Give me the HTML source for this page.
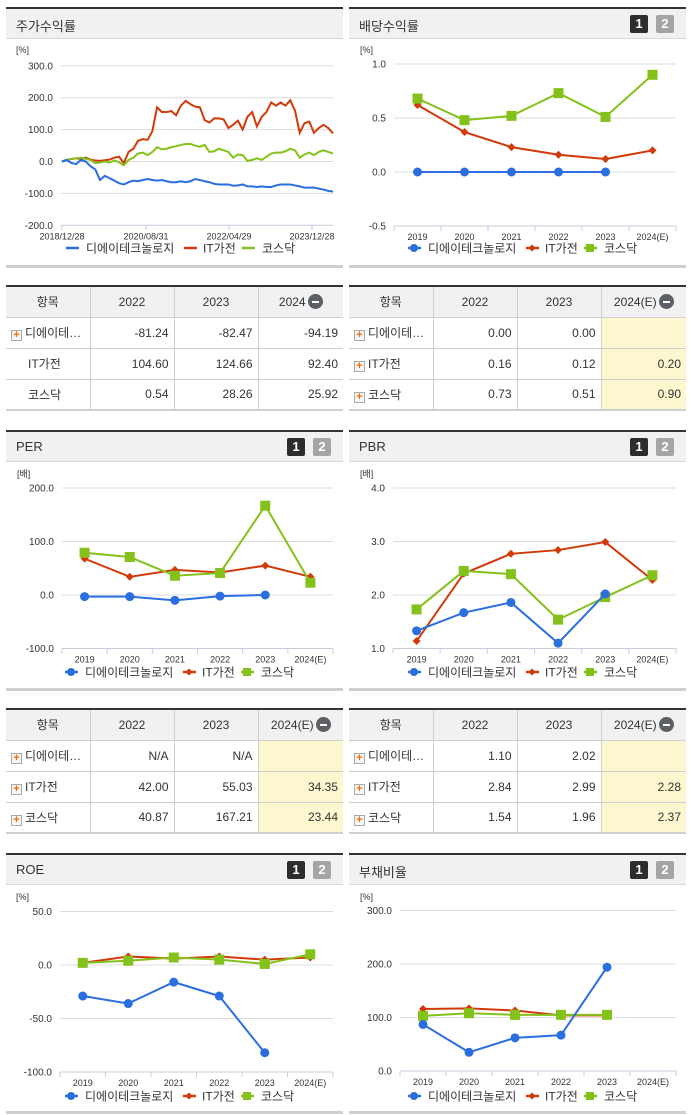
<!DOCTYPE html>
<html><head><meta charset="utf-8">
<style>
*{margin:0;padding:0;box-sizing:border-box}
body{width:691px;height:1115px;background:#fff;position:relative;overflow:hidden;font-family:"Liberation Sans","Noto Sans CJK KR",sans-serif;color:#333}
.panel{position:absolute;border-top:2px solid #333;background:#f1f1f1;height:32px;border-bottom:1px solid #d8d8d8}
.panel .t{position:absolute;left:10px;top:7px;font-size:13px;color:#333}
.btn{position:absolute;top:6px;width:18px;height:18px;font-size:13px;font-weight:bold;color:#fff;text-align:center;line-height:18px;border-radius:2px}
.b1{background:#2d2d2d;right:38px}.b2{background:#a5a5a5;right:12px}
.bar{position:absolute;height:3px;background:#cfcfcf}
table{position:absolute;border-collapse:collapse;font-size:12px;border-top:2px solid #333;border-bottom:2px solid #cfcfcf;table-layout:fixed}
td,th{border:1px solid #cfcfcf;height:31px;padding:0 5px;text-align:right;white-space:nowrap;overflow:hidden}
th{background:#f1f1f1;font-weight:normal;text-align:center;height:31px}
tr td:first-child,tr th:first-child{border-left:none}
tr td:last-child,tr th:last-child{border-right:none}
td.n{text-align:left;padding-left:5px}
td.y{background:#fdf7d0}
.plus{display:inline-block;width:11px;height:11px;border:1px solid #aaa;background:#f6f6f6;color:#f26a00;font-size:11px;line-height:9px;text-align:center;font-weight:bold;margin-right:3px;vertical-align:-1px}
.minus{display:inline-block;width:15px;height:15px;border-radius:50%;background:#5c6066;vertical-align:-3px;position:relative;margin-left:2px}
.minus:after{content:"";position:absolute;left:4px;top:6.5px;width:7px;height:2px;background:#fff}
svg{position:absolute;left:0;top:0}
</style></head><body>

<div class="panel" style="left:6px;top:7px;width:337px"><span class="t">주가수익률</span></div>
<div class="panel" style="left:349px;top:7px;width:337px"><span class="t">배당수익률</span><span class="btn b1">1</span><span class="btn b2">2</span></div>
<div class="panel" style="left:6px;top:430px;width:337px"><span class="t">PER</span><span class="btn b1">1</span><span class="btn b2">2</span></div>
<div class="panel" style="left:349px;top:430px;width:337px"><span class="t">PBR</span><span class="btn b1">1</span><span class="btn b2">2</span></div>
<div class="panel" style="left:6px;top:853px;width:337px"><span class="t">ROE</span><span class="btn b1">1</span><span class="btn b2">2</span></div>
<div class="panel" style="left:349px;top:853px;width:337px"><span class="t">부채비율</span><span class="btn b1">1</span><span class="btn b2">2</span></div>

<div class="bar" style="left:6px;top:265px;width:337px"></div>
<div class="bar" style="left:349px;top:265px;width:337px"></div>
<div class="bar" style="left:6px;top:688px;width:337px"></div>
<div class="bar" style="left:349px;top:688px;width:337px"></div>
<div class="bar" style="left:6px;top:1111px;width:337px"></div>
<div class="bar" style="left:349px;top:1111px;width:337px"></div>

<table style="left:6px;top:285px;width:337px">
<colgroup><col style="width:84px"><col style="width:84px"><col style="width:84px"><col style="width:85px"></colgroup>
<tr><th>항목</th><th>2022</th><th>2023</th><th>2024<span class="minus"></span></th></tr>
<tr><td class="n"><span class="plus">+</span>디에이테…</td><td>-81.24</td><td>-82.47</td><td>-94.19</td></tr>
<tr><td class="n" style="padding-left:22px">IT가전</td><td>104.60</td><td>124.66</td><td>92.40</td></tr>
<tr><td class="n" style="padding-left:22px">코스닥</td><td>0.54</td><td>28.26</td><td>25.92</td></tr>
</table>

<table style="left:349px;top:285px;width:337px">
<colgroup><col style="width:84px"><col style="width:84px"><col style="width:84px"><col style="width:85px"></colgroup>
<tr><th>항목</th><th>2022</th><th>2023</th><th>2024(E)<span class="minus"></span></th></tr>
<tr><td class="n"><span class="plus">+</span>디에이테…</td><td>0.00</td><td>0.00</td><td class="y"></td></tr>
<tr><td class="n"><span class="plus">+</span>IT가전</td><td>0.16</td><td>0.12</td><td class="y">0.20</td></tr>
<tr><td class="n"><span class="plus">+</span>코스닥</td><td>0.73</td><td>0.51</td><td class="y">0.90</td></tr>
</table>

<table style="left:6px;top:708px;width:337px">
<colgroup><col style="width:84px"><col style="width:84px"><col style="width:84px"><col style="width:85px"></colgroup>
<tr><th>항목</th><th>2022</th><th>2023</th><th>2024(E)<span class="minus"></span></th></tr>
<tr><td class="n"><span class="plus">+</span>디에이테…</td><td>N/A</td><td>N/A</td><td class="y"></td></tr>
<tr><td class="n"><span class="plus">+</span>IT가전</td><td>42.00</td><td>55.03</td><td class="y">34.35</td></tr>
<tr><td class="n"><span class="plus">+</span>코스닥</td><td>40.87</td><td>167.21</td><td class="y">23.44</td></tr>
</table>

<table style="left:349px;top:708px;width:337px">
<colgroup><col style="width:84px"><col style="width:84px"><col style="width:84px"><col style="width:85px"></colgroup>
<tr><th>항목</th><th>2022</th><th>2023</th><th>2024(E)<span class="minus"></span></th></tr>
<tr><td class="n"><span class="plus">+</span>디에이테…</td><td>1.10</td><td>2.02</td><td class="y"></td></tr>
<tr><td class="n"><span class="plus">+</span>IT가전</td><td>2.84</td><td>2.99</td><td class="y">2.28</td></tr>
<tr><td class="n"><span class="plus">+</span>코스닥</td><td>1.54</td><td>1.96</td><td class="y">2.37</td></tr>
</table>

<svg id="charts" width="691" height="1115"></svg>

<script>
// ---- data ----
const years = ["2019","2020","2021","2022","2023","2024(E)"];
const stockTicks = ["2018/12/28","2020/08/31","2022/04/29","2023/12/28"];
const stockRed = [0,5,8,10,8,12,6,3,2,4,6,12,15,-5,30,40,65,70,68,95,170,155,155,158,145,175,190,180,172,170,130,122,135,135,132,105,115,128,100,140,155,110,140,155,185,175,185,175,192,160,90,120,125,90,105,115,105,88];
const stockGreen = [0,5,8,10,12,8,5,-5,-3,0,-3,3,-2,-12,5,12,25,28,20,30,45,38,40,45,48,52,55,55,50,46,52,30,32,40,35,30,12,22,20,2,5,10,5,15,25,28,28,32,40,35,12,22,28,20,30,35,30,25];
const stockBlue = [0,5,-5,-8,5,0,-15,-25,-58,-45,-52,-60,-68,-72,-65,-60,-62,-58,-55,-58,-60,-58,-62,-65,-65,-62,-65,-62,-55,-58,-62,-65,-70,-72,-72,-72,-76,-75,-72,-78,-78,-80,-78,-80,-80,-75,-72,-72,-72,-75,-78,-82,-82,-82,-85,-88,-92,-94];
const divBlue = [0,0,0,0,0];
const divRed = [0.62,0.37,0.23,0.16,0.12,0.20];
const divGreen = [0.68,0.48,0.52,0.73,0.51,0.90];
const perBlue = [-3,-3,-10,-2,0];
const perRed = [68,34,47,42,55,34];
const perGreen = [79,71,36,41,167,23];
const pbrBlue = [1.33,1.67,1.86,1.10,2.02];
const pbrRed = [1.14,2.40,2.77,2.84,2.99,2.28];
const pbrGreen = [1.73,2.45,2.39,1.54,1.96,2.37];
const roeBlue = [-29,-36,-16,-29,-82];
const roeRed = [2,8,6,8,5,7];
const roeGreen = [2,4,7,5,1,10];
const debtBlue = [87,35,62,67,194];
const debtRed = [116,117,113,104,104];
const debtGreen = [103,108,105,105,105];

const NS="http://www.w3.org/2000/svg";
const svg=document.getElementById('charts');
const BLUE="#2a6ee0",RED="#d23a0a",GREEN="#84c11a";
function mk(tag,attrs,parent){const e=document.createElementNS(NS,tag);for(const k in attrs)e.setAttribute(k,attrs[k]);(parent||svg).appendChild(e);return e;}
function txt(x,y,s,size,anchor,parent){const t=mk('text',{x:x,y:y,'font-size':size,'text-anchor':anchor||'start',fill:'#333','font-family':'"Liberation Sans","Noto Sans CJK KR",sans-serif'},parent);t.textContent=s;return t;}

function frame(c){
  const g=mk('g',{});
  
  
  c.ticks.forEach((v,i)=>{
    const y=c.y(v);
    if(i<c.ticks.length-1) mk('line',{x1:c.l,x2:c.r,y1:y,y2:y,stroke:'#dcdcdc','stroke-width':1},g);
    const lab=txt(c.l-8,y+3.5,c.tickLabels[i],10,'end',g);
    
    
  });
  const ab=c.y(c.ticks[c.ticks.length-1]);
  mk('line',{x1:c.l,x2:c.r,y1:ab,y2:ab,stroke:'#c5cfdb','stroke-width':1},g);
  txt(c.ux,c.uy,c.unit,9,'start',g);
  return {g,ab};
}
function catChart(c){
  const {g,ab}=frame(c);
  const w=(c.r-c.l)/years.length;
  for(let i=0;i<=years.length;i++) mk('line',{x1:c.l+i*w,x2:c.l+i*w,y1:ab,y2:ab+5,stroke:'#c5cfdb'},g);
  years.forEach((yr,i)=>{const t=txt(c.l+(i+.5)*w,ab+14,yr,9,'middle',g);});
  const cx=i=>c.l+(i+.5)*w;
  const series=[[c.green,GREEN,'sq'],[c.red,RED,'dia'],[c.blue,BLUE,'dot']];
  [[c.red,RED,'dia'],[c.green,GREEN,'sq'],[c.blue,BLUE,'dot']].forEach(([d,col,m])=>{
    const s=mk('g',{},g);
    
    
    mk('polyline',{points:d.map((v,i)=>cx(i)+','+c.y(v)).join(' '),fill:'none',stroke:col,'stroke-width':2},s);
    d.forEach((v,i)=>{
      const x=cx(i),y=c.y(v);let p;
      if(m=='dot')p=mk('circle',{cx:x,cy:y,r:4.5,fill:col},s);
      else if(m=='sq')p=mk('rect',{x:x-5,y:y-5,width:10,height:10,fill:col},s);
      else p=mk('polygon',{points:`${x},${y-4} ${x+4},${y} ${x},${y+4} ${x-4},${y}`,fill:col},s);
      
      
    });
  });
  legend(c.legX,c.legY,true);
}
function legend(x0,y,markers){
  const g=mk('g',{});
  
  
  const items=[["디에이테크놀로지",BLUE,'dot',0,14],["IT가전",RED,'dia',118,131],["코스닥",GREEN,'sq',176,190]];
  items.forEach(([n,col,m,mx,tx])=>{
    const e=mk('g',{},g);
    
    
    const x=x0+mx;
    mk('line',{x1:x-6,x2:x+7,y1:y,y2:y,stroke:col,'stroke-width':2.5},e);
    if(markers){
      if(m=='dot')mk('circle',{cx:x,cy:y,r:4,fill:col},e);
      else if(m=='sq')mk('rect',{x:x-4,y:y-4,width:8,height:8,fill:col},e);
      else mk('polygon',{points:`${x},${y-3.5} ${x+3.5},${y} ${x},${y+3.5} ${x-3.5},${y}`,fill:col},e);
    }
    txt(x0+tx,y+4.5,n,12,'start',e);
  });
}

// stock chart (time series)
(function(){
  const c={name:'stock-return-chart',l:61,r:333,y:v=>161.5-v*0.319,ticks:[300,200,100,0,-100,-200],tickLabels:["300.0","200.0","100.0","0.0","-100.0","-200.0"],unit:"[%]",ux:16,uy:53};
  const {g,ab}=frame(c);
  const tx=[62,146,229,312];
  stockTicks.forEach((s,i)=>{mk('line',{x1:tx[i],x2:tx[i],y1:ab,y2:ab+5,stroke:'#c5cfdb'},g);const t=txt(tx[i],ab+14,s,9,'middle',g);});
  [[stockRed,RED,'it-appliance'],[stockGreen,GREEN,'kosdaq'],[stockBlue,BLUE,'company']].forEach(([d,col,nm])=>{
    const pl=mk('polyline',{points:d.map((v,i)=>(62+i*(271/(d.length-1)))+','+c.y(v)).join(' '),fill:'none',stroke:col,'stroke-width':2},g);
    
    
  });
  legend(72,248,false);
})();

catChart({name:'dividend-chart',l:394,r:676,y:v=>172-v*108,ticks:[1,0.5,0,-0.5],tickLabels:["1.0","0.5","0.0","-0.5"],unit:"[%]",ux:360,uy:53,blue:divBlue,red:divRed,green:divGreen,legX:414,legY:248});
catChart({name:'per-chart',l:62,r:333,y:v=>595-v*0.535,ticks:[200,100,0,-100],tickLabels:["200.0","100.0","0.0","-100.0"],unit:"[배]",ux:17,uy:477,blue:perBlue,red:perRed,green:perGreen,legX:71,legY:672});
catChart({name:'pbr-chart',l:393,r:676,y:v=>595-(v-2)*53.5,ticks:[4,3,2,1],tickLabels:["4.0","3.0","2.0","1.0"],unit:"[배]",ux:360,uy:477,blue:pbrBlue,red:pbrRed,green:pbrGreen,legX:414,legY:672});
catChart({name:'roe-chart',l:60,r:333,y:v=>965-v*1.07,ticks:[50,0,-50,-100],tickLabels:["50.0","0.0","-50.0","-100.0"],unit:"[%]",ux:16,uy:900,blue:roeBlue,red:roeRed,green:roeGreen,legX:71,legY:1096});
catChart({name:'debt-ratio-chart',l:400,r:676,y:v=>1071-v*0.535,ticks:[300,200,100,0],tickLabels:["300.0","200.0","100.0","0.0"],unit:"[%]",ux:360,uy:900,blue:debtBlue,red:debtRed,green:debtGreen,legX:414,legY:1096});
</script>
</body></html>
